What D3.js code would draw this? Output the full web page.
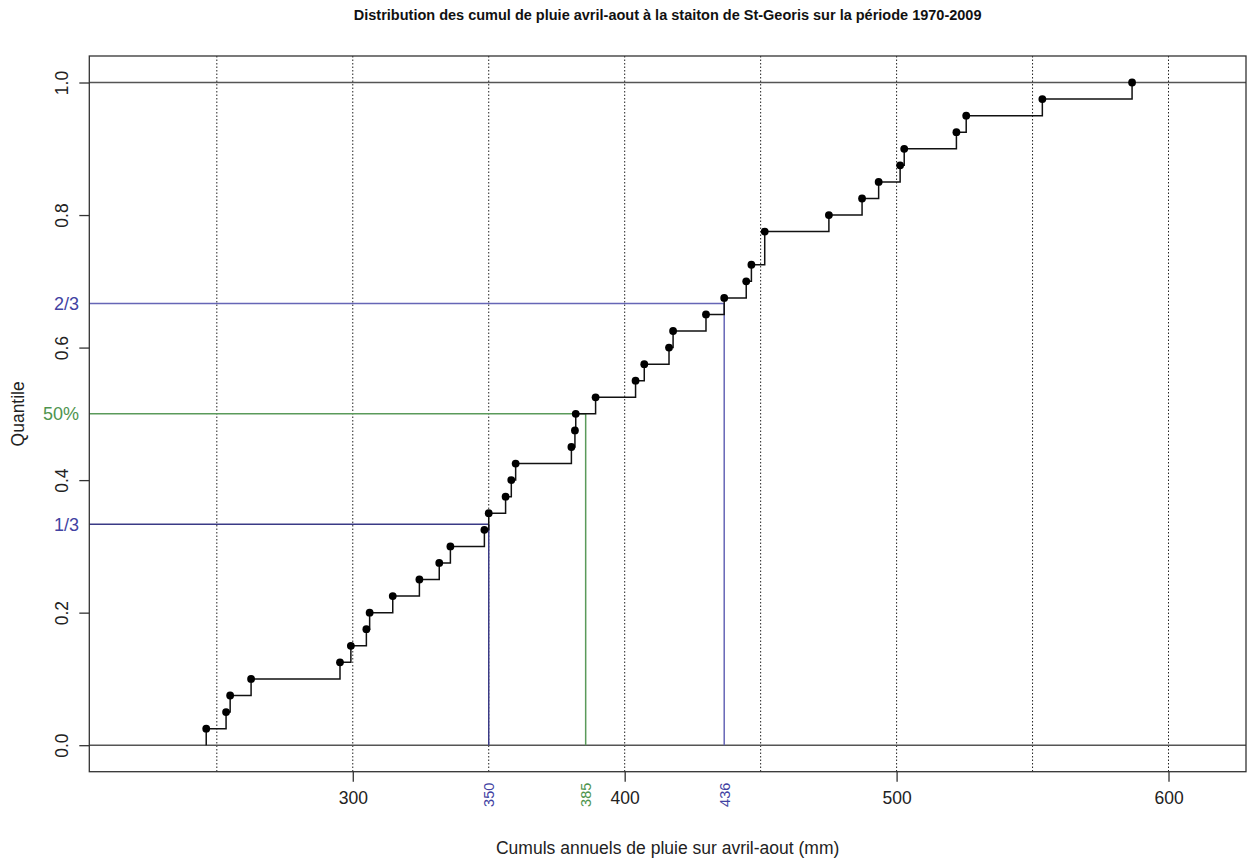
<!DOCTYPE html>
<html>
<head>
<meta charset="utf-8">
<script src="https://cdn.jsdelivr.net/npm/d3@7"></script>
<style>
  body { margin: 0; background: #fff; }
  svg { font-family: "Liberation Sans", Arial, sans-serif; }
</style>
</head>
<body>
<div class="chart"></div>
<script>
// cumuls avril-aout 1970-2009 (mm)
const cumuls = [246.1, 253.4, 254.9, 262.6, 295.3, 299.3, 305.0, 306.2, 314.7, 324.5,
                331.8, 335.9, 348.4, 350.0, 356.2, 358.3, 359.9, 380.4, 381.7, 382.0,
                389.3, 404.0, 407.2, 416.3, 417.8, 429.9, 436.6, 444.7, 446.6, 451.5,
                451.5, 475.1, 487.3, 493.4, 501.3, 502.8, 522.0, 525.6, 553.6, 586.6]
const xTicks = [300, 400, 500, 600]
const yTicks = [0, 0.2, 0.4, 0.6, 0.8, 1.0]
const gridX = [250, 300, 350, 400, 450, 500, 550, 600]
const quantProbs = [1/3, 0.5, 2/3]
const quantYLabels = ["1/3", "50%", "2/3"]
const quantXLabels = ["350", "385", "436"]
const quantColors = ["#3a3a86", "#5a9a5a", "#6666b6"]
const quantTextColors = ["#4242a2", "#4e944e", "#4242a2"]

const W = 1252, H = 861
const box = {left: 89.3, right: 1246, top: 56, bottom: 771.7}

const svg = d3.select(".chart").append("svg")
    .attr("width", W)
    .attr("height", H)

const x = d3.scaleLinear().domain([203.1, 628.5]).range([box.left, box.right])
const y = d3.scaleLinear().domain([-0.04, 1.04]).range([box.bottom, box.top])

// title
svg.append("text")
    .attr("x", (box.left + box.right) / 2)
    .attr("y", 20)
    .attr("text-anchor", "middle")
    .attr("fill", "#111")
    .style("font-size", "14.5px")
    .style("font-weight", "bold")
    .text("Distribution des cumul de pluie avril-aout à la staiton de St-Georis sur la période 1970-2009")

// vertical dotted grid
svg.append("g").selectAll("line")
    .data(gridX)
    .enter().append("line")
    .attr("x1", d => x(d)).attr("x2", d => x(d))
    .attr("y1", box.top).attr("y2", box.bottom)
    .attr("stroke", "#222")
    .attr("stroke-width", 1)
    .attr("stroke-dasharray", "1.5,2")

// lignes 0 et 1
svg.append("g").selectAll("line")
    .data([0, 1])
    .enter().append("line")
    .attr("x1", box.left).attr("x2", box.right)
    .attr("y1", d => y(d)).attr("y2", d => y(d))
    .attr("stroke", "#555")
    .attr("stroke-width", 1.5)

// ecdf
const sorted = cumuls.slice().sort(d3.ascending)
const n = sorted.length
const uniq = Array.from(new Set(sorted))
const steps = uniq.map(v => ({x: v, p: sorted.filter(s => s <= v).length / n}))

// quantile lines
const quants = quantProbs.map((p, i) => ({
    p: p, q: d3.quantile(sorted, p), col: quantColors[i], tcol: quantTextColors[i],
    ylab: quantYLabels[i], xlab: quantXLabels[i]
}))

const ql = svg.append("g")
ql.selectAll(".qh")
    .data(quants)
    .enter().append("line")
    .attr("x1", box.left).attr("x2", d => x(d.q))
    .attr("y1", d => y(d.p)).attr("y2", d => y(d.p))
    .attr("stroke", d => d.col)
    .attr("stroke-width", 1.5)
ql.selectAll(".qv")
    .data(quants)
    .enter().append("line")
    .attr("x1", d => x(d.q)).attr("x2", d => x(d.q))
    .attr("y1", d => y(d.p)).attr("y2", y(0))
    .attr("stroke", d => d.col)
    .attr("stroke-width", 1.5)

// step line
let pts = [[sorted[0], 0]]
steps.forEach((s, i) => {
    pts.push([s.x, s.p])
    if (i < steps.length - 1) pts.push([steps[i + 1].x, s.p])
})
svg.append("path")
    .datum(pts)
    .attr("fill", "none")
    .attr("stroke", "#111")
    .attr("stroke-width", 1.5)
    .attr("d", d3.line().x(d => x(d[0])).y(d => y(d[1])))

svg.append("g").selectAll("circle")
    .data(steps)
    .enter().append("circle")
    .attr("cx", d => x(d.x))
    .attr("cy", d => y(d.p))
    .attr("r", 3.9)
    .attr("fill", "#000")

// box
svg.append("rect")
    .attr("x", box.left).attr("y", box.top)
    .attr("width", box.right - box.left).attr("height", box.bottom - box.top)
    .attr("fill", "none")
    .attr("stroke", "#333")
    .attr("stroke-width", 1.3)

// axes
const xAxis = d3.axisBottom(x).tickValues(xTicks).tickSize(10).tickPadding(4).tickFormat(d3.format("d"))
const gx = svg.append("g")
    .attr("transform", "translate(0," + box.bottom + ")")
    .call(xAxis)
gx.select(".domain").remove()
gx.selectAll(".tick line").attr("stroke", "#333").attr("stroke-width", 1.3)
gx.selectAll(".tick text")
    .style("font-size", "17.5px")
    .attr("fill", "#222")
    .attr("dy", "1.05em")

const yAxis = d3.axisLeft(y).tickValues(yTicks).tickSize(10).tickFormat(d3.format(".1f"))
const gy = svg.append("g")
    .attr("transform", "translate(" + box.left + ",0)")
    .call(yAxis)
gy.select(".domain").remove()
gy.selectAll(".tick line").attr("stroke", "#333").attr("stroke-width", 1.3)
gy.selectAll(".tick text")
    .style("font-size", "17.5px")
    .attr("fill", "#222")
    .attr("x", 0).attr("y", 0).attr("dy", 0)
    .attr("text-anchor", "middle")
    .attr("transform", "translate(-21,0) rotate(-90)")

// quantile labels on axes
svg.append("g").selectAll("text")
    .data(quants)
    .enter().append("text")
    .attr("x", 79)
    .attr("y", d => y(d.p))
    .attr("dy", "0.36em")
    .attr("text-anchor", "end")
    .attr("fill", d => d.tcol)
    .style("font-size", "18px")
    .text(d => d.ylab)

svg.append("g").selectAll("text")
    .data(quants)
    .enter().append("text")
    .attr("transform", d => "translate(" + (x(d.q) + 5.5) + "," + (box.bottom + 11) + ") rotate(-90)")
    .attr("text-anchor", "end")
    .attr("fill", d => d.tcol)
    .style("font-size", "14.5px")
    .text(d => d.xlab)

// axis titles
svg.append("text")
    .attr("x", (box.left + box.right) / 2)
    .attr("y", 854)
    .attr("text-anchor", "middle")
    .attr("fill", "#222")
    .style("font-size", "17.5px")
    .text("Cumuls annuels de pluie sur avril-aout (mm)")

svg.append("text")
    .attr("transform", "translate(24," + ((box.top + box.bottom) / 2) + ") rotate(-90)")
    .attr("text-anchor", "middle")
    .attr("fill", "#222")
    .style("font-size", "17.5px")
    .text("Quantile")
</script>
</body>
</html>
